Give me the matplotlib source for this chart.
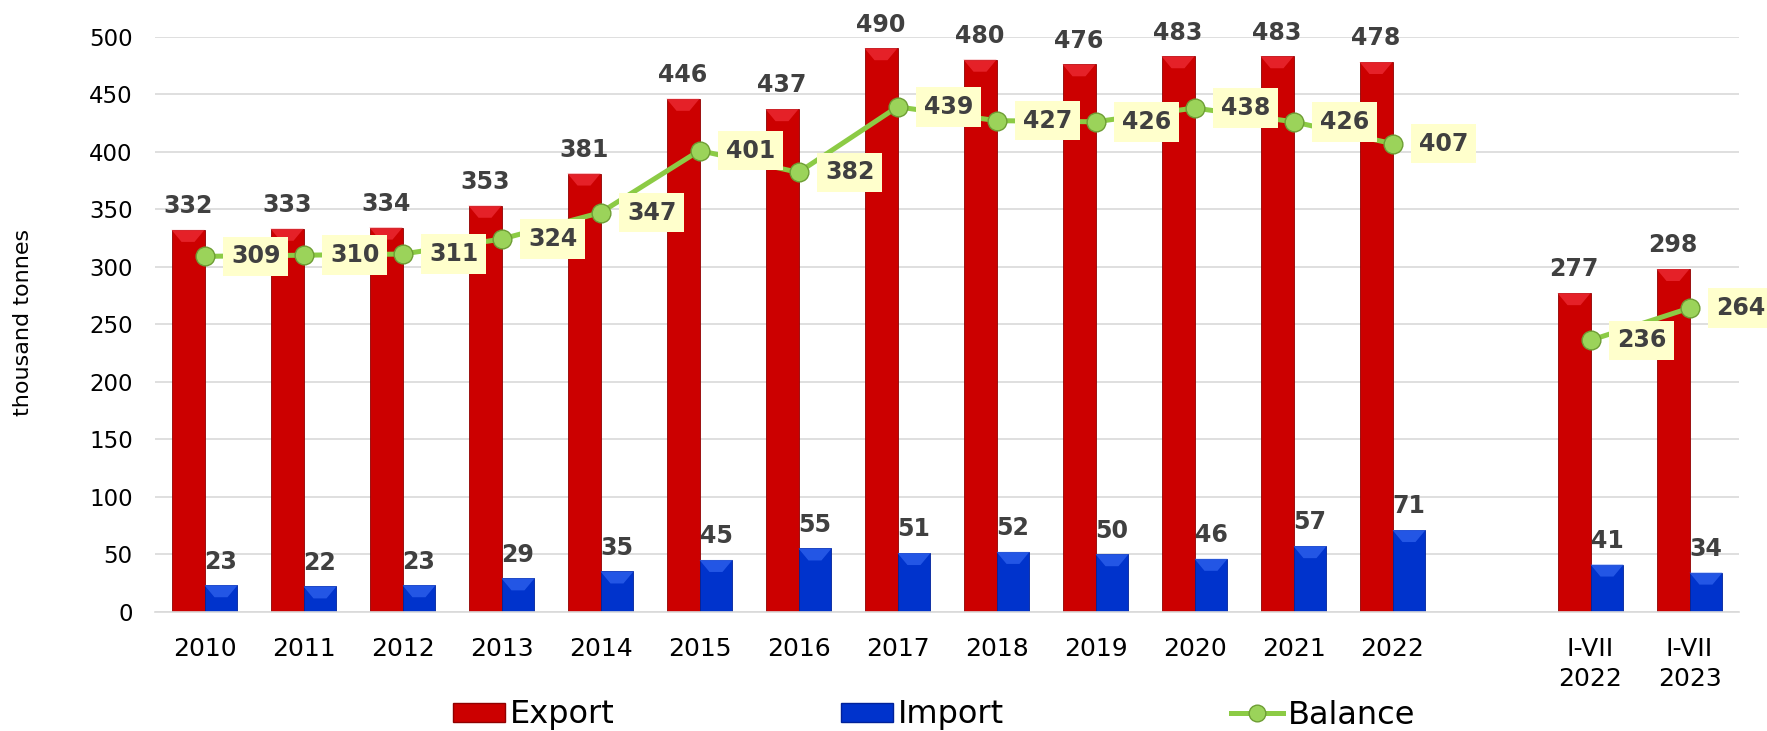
import numpy as np
import matplotlib
matplotlib.use('Agg')
import matplotlib.pyplot as plt
from matplotlib.patches import Patch, Polygon
from matplotlib.lines import Line2D

categories = ['2010', '2011', '2012', '2013', '2014', '2015', '2016', '2017',
              '2018', '2019', '2020', '2021', '2022', 'I-VII\n2022', 'I-VII\n2023']
export = [332, 333, 334, 353, 381, 446, 437, 490, 480, 476, 483, 483, 478, 277, 298]
imports = [23, 22, 23, 29, 35, 45, 55, 51, 52, 50, 46, 57, 71, 41, 34]
balance = [309, 310, 311, 324, 347, 401, 382, 439, 427, 426, 438, 426, 407, 236, 264]

RED = '#CC0000'
RED_TOP = '#F0303A'
BLUE = '#0033CC'
BLUE_TOP = '#3366F0'
GREEN = '#8CCB45'
LABEL = '#404040'

plt.rcParams['font.family'] = ['DejaVu Sans']

# one empty slot between the yearly data and the I-VII periods
pos = np.array(list(range(13)) + [14, 15], dtype=float)
w = 0.333

fig = plt.figure(figsize=(17.67, 7.31), dpi=100)
ax = fig.add_axes([155 / 1767, 119.3 / 731, 1584 / 1767, 575 / 731])
ax.set_xlim(-0.5, 15.5)
ax.set_ylim(0, 500)

ax.bar(pos - w / 2, export, w, color=RED, edgecolor='#900000', linewidth=0.6, zorder=2)
ax.bar(pos + w / 2, imports, w, color=BLUE, edgecolor='#00229A', linewidth=0.6, zorder=2)

# bevel on the bar tops
px_x = 1584 / 16.0
px_y = 575 / 500.0
dy = 12 / px_y
dx = 10 / px_x
for vals, off, col in [(export, -w / 2, RED_TOP), (imports, w / 2, BLUE_TOP)]:
    for p, v in zip(pos, vals):
        x0 = p + off - w / 2
        ax.add_patch(Polygon([(x0, v), (x0 + w, v), (x0 + w - dx, v - dy), (x0 + dx, v - dy)],
                             closed=True, facecolor=col, edgecolor='none', alpha=0.7, zorder=3))

# balance line, broken between 2022 and the I-VII periods
for sl in [slice(0, 13), slice(13, 15)]:
    ax.plot(pos[sl], balance[sl], color=GREEN, lw=3.6, zorder=4,
            marker='o', ms=13.5, mfc='#9BD35A', mec='#6E9E35', mew=1.0)

for p, v in zip(pos, export):
    ax.annotate(str(v), (p - w / 2, v), xytext=(0, 12), textcoords='offset points',
                ha='center', va='baseline', fontsize=17, fontweight='bold', color=LABEL, zorder=6)
for p, v in zip(pos, imports):
    ax.annotate(str(v), (p + w / 2, v), xytext=(0, 12), textcoords='offset points',
                ha='center', va='baseline', fontsize=17, fontweight='bold', color=LABEL, zorder=6)
for p, v in zip(pos, balance):
    ax.annotate(str(v), (p, v), xytext=(37, 0), textcoords='offset points',
                ha='center', va='center', fontsize=17, fontweight='bold', color=LABEL, zorder=5,
                bbox=dict(boxstyle='square,pad=0.33', fc='#FFFFCC', ec='none'))

ax.set_yticks(np.arange(0, 501, 50))
ax.set_xticks(pos)
ax.set_xticklabels(categories, fontsize=18, linespacing=1.35)
ax.tick_params(axis='y', labelsize=16.5, length=0, pad=16)
ax.tick_params(axis='x', length=0, pad=18)
ax.grid(axis='y', color='#D9D9D9', lw=1.2, zorder=0)
ax.set_axisbelow(True)
for s in ['top', 'right', 'left']:
    ax.spines[s].set_visible(False)
ax.spines['bottom'].set_color('#D9D9D9')
ax.spines['bottom'].set_linewidth(1.2)

fig.text(23 / 1767, 1 - 322 / 731, 'thousand tonnes', rotation=90, fontsize=16,
         ha='center', va='center')

handles = [Patch(facecolor=RED, edgecolor='#900000', label='Export'),
           Patch(facecolor=BLUE, edgecolor='#00229A', label='Import'),
           Line2D([], [], color=GREEN, lw=3.6, marker='o', ms=12, mfc='#9BD35A',
                  mec='#6E9E35', label='Balance')]
fig.legend(handles=handles, loc='center', bbox_to_anchor=(934 / 1767, 16 / 731), ncol=3,
           frameon=False, fontsize=23, handlelength=1.63, handleheight=0.53,
           handletextpad=0.15, columnspacing=7.1, borderpad=0)

fig.savefig('out.png', dpi=100)
